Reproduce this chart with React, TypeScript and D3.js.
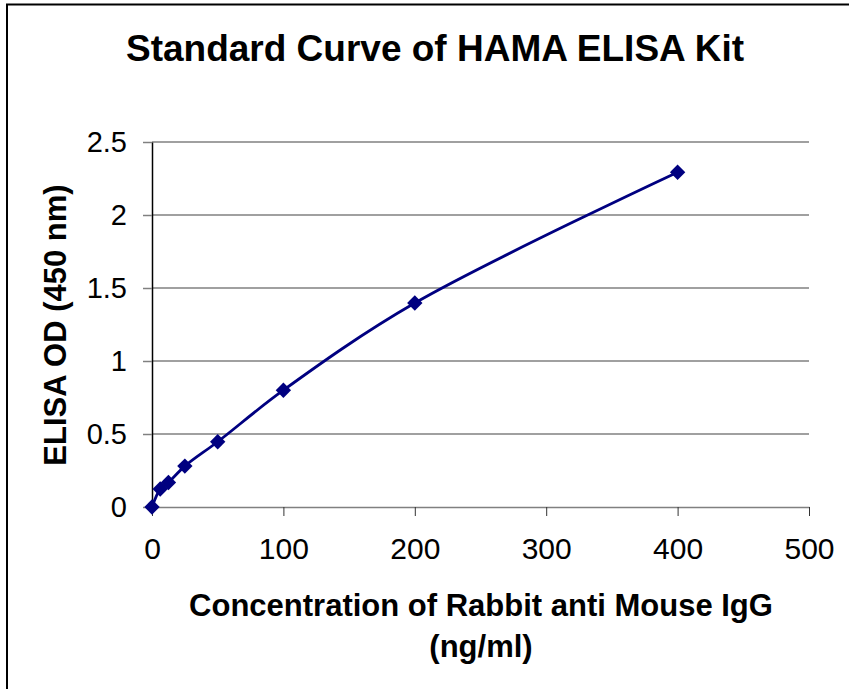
import React, { useRef, useEffect } from 'react';
import * as d3 from 'd3';

const concentrations = [0, 6.25, 12.5, 25, 50, 100, 200, 400];
const odValues = [0, 0.123, 0.168, 0.28, 0.447, 0.8, 1.397, 2.293];
const xTicks = [0, 100, 200, 300, 400, 500];
const yTicks = [0, 0.5, 1, 1.5, 2, 2.5];

const App: React.FC = () => {
    const chartRef = useRef<SVGSVGElement | null>(null);

    useEffect(() => {
        if (!chartRef.current) return;
        const svg = d3.select(chartRef.current);
        svg.selectAll('*').remove();

        const width = 849;
        const height = 689;
        const margin = { top: 142, right: 40, bottom: 182, left: 152 };
        const font = '"Liberation Sans", Arial, sans-serif';
        const navy = '#000080';
        const grey = '#808080';

        svg.attr('width', width).attr('height', height).style('font-family', font);

        svg.append('rect').attr('width', width).attr('height', height).attr('fill', '#fff');

        // outer frame (only top and left visible)
        svg.append('path')
            .attr('d', `M7,${height + 5} V4.5 H${width + 5}`)
            .attr('fill', 'none')
            .attr('stroke', '#000')
            .attr('stroke-width', 2);

        const x = d3.scaleLinear().domain([0, 500]).range([margin.left, width - margin.right]);
        const y = d3.scaleLinear().domain([0, 2.5]).range([height - margin.bottom, margin.top]);

        // grid lines
        svg.append('g')
            .selectAll('line')
            .data(yTicks.filter(d => d > 0))
            .join('line')
            .attr('x1', x(0))
            .attr('x2', x(500))
            .attr('y1', d => y(d))
            .attr('y2', d => y(d))
            .attr('stroke', grey)
            .attr('stroke-width', 1.5);

        // x axis
        const xAxis = svg.append('g')
            .attr('transform', `translate(0,${y(0)})`)
            .call(d3.axisBottom(x).tickValues(xTicks).tickSize(9).tickSizeOuter(0).tickPadding(22));
        xAxis.select('.domain').attr('stroke', grey).attr('stroke-width', 1.5);
        xAxis.selectAll('.tick line').attr('stroke', '#333');
        xAxis.selectAll('text')
            .attr('font-size', 30)
            .attr('font-family', font)
            .attr('fill', '#000');

        // y axis
        const yAxis = svg.append('g')
            .attr('transform', `translate(${x(0)},0)`)
            .call(d3.axisLeft(y).tickValues(yTicks).tickSize(9).tickSizeOuter(0).tickPadding(16)
                .tickFormat(d => String(d)));
        yAxis.select('.domain').attr('stroke', '#000').attr('stroke-width', 1.5);
        yAxis.selectAll('.tick line').attr('stroke', grey).attr('stroke-width', 1.5);
        yAxis.selectAll('text')
            .attr('font-size', 29)
            .attr('font-family', font)
            .attr('fill', '#000');

        // curve
        const points = concentrations.map((c, i) => [c, odValues[i]] as [number, number]);
        svg.append('path')
            .datum(points)
            .attr('fill', 'none')
            .attr('stroke', navy)
            .attr('stroke-width', 2.8)
            .attr('d', d3.line<[number, number]>()
                .x(d => x(d[0]))
                .y(d => y(d[1]))
                .curve(d3.curveCatmullRom.alpha(0.5)));

        // markers
        svg.append('g')
            .selectAll('path')
            .data(points)
            .join('path')
            .attr('transform', d => `translate(${x(d[0])},${y(d[1])}) rotate(45)`)
            .attr('d', d3.symbol(d3.symbolSquare, 118)())
            .attr('fill', navy);

        // titles
        svg.append('text')
            .attr('x', 435)
            .attr('y', 61)
            .attr('text-anchor', 'middle')
            .attr('font-size', 37)
            .attr('font-weight', 'bold')
            .text('Standard Curve of HAMA ELISA Kit');

        svg.append('text')
            .attr('x', 481)
            .attr('y', 616)
            .attr('text-anchor', 'middle')
            .attr('font-size', 31)
            .attr('font-weight', 'bold')
            .text('Concentration of Rabbit anti Mouse IgG');

        svg.append('text')
            .attr('x', 481)
            .attr('y', 657)
            .attr('text-anchor', 'middle')
            .attr('font-size', 31)
            .attr('font-weight', 'bold')
            .text('(ng/ml)');

        svg.append('text')
            .attr('transform', `translate(66,325) rotate(-90)`)
            .attr('text-anchor', 'middle')
            .attr('font-size', 31)
            .attr('font-weight', 'bold')
            .text('ELISA OD (450 nm)');
    }, []);

    return (
        <svg ref={chartRef} style={{ position: 'absolute', left: 0, top: 0, display: 'block' }}></svg>
    );
};

export default App;
